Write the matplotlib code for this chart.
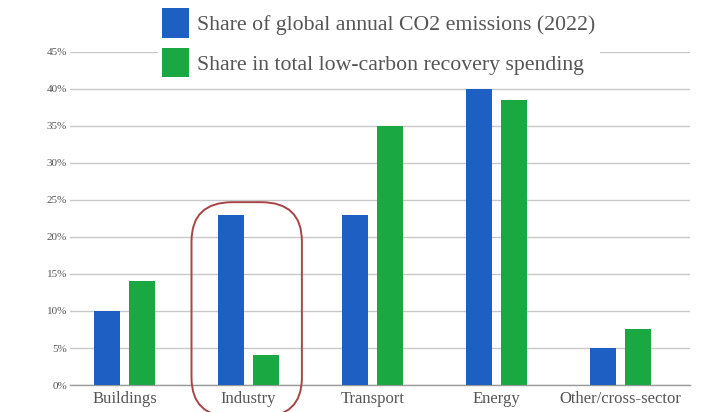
import matplotlib
matplotlib.use("Agg")
import matplotlib.pyplot as plt
from matplotlib.patches import FancyBboxPatch, Patch
import numpy as np

plt.rcParams['font.family'] = ['Liberation Serif', 'DejaVu Serif']

categories = ["Buildings", "Industry", "Transport", "Energy", "Other/cross-sector"]
emissions_share = [10, 23, 23, 40, 5]
spending_share = [14, 4, 35, 38.5, 7.5]
y_ticks = [0, 5, 10, 15, 20, 25, 30, 35, 40, 45]
y_tick_labels = [f"{v}%" for v in y_ticks]
series_labels = ["Share of global annual CO2 emissions (2022)",
                 "Share in total low-carbon recovery spending"]

blue = "#1d5fc2"
green = "#1aa843"
text_grey = "#555555"

fig = plt.figure(figsize=(7.07, 4.12), dpi=100)
ax = fig.add_axes([0.099, 0.0655, 0.877, 0.8085])

x = np.arange(len(categories))
offset = 0.14
width = 0.21
ax.bar(x - offset, emissions_share, width, color=blue, zorder=3)
ax.bar(x + offset, spending_share, width, color=green, zorder=3)

ax.set_xlim(-0.44, 4.56)
ax.set_ylim(0, 45)
ax.set_yticks(y_ticks)
ax.set_yticklabels(y_tick_labels, fontsize=8, color=text_grey)
ax.set_xticks(x)
ax.set_xticklabels(categories, fontsize=12, color=text_grey)
ax.tick_params(axis='both', length=0)
ax.tick_params(axis='y', pad=2)
ax.tick_params(axis='x', pad=4)
ax.yaxis.grid(True, color="#c8c8c8", linewidth=1.0, zorder=0)
ax.set_axisbelow(True)
for side in ["top", "right", "left"]:
    ax.spines[side].set_visible(False)
ax.spines["bottom"].set_color("#9a9a9a")
ax.spines["bottom"].set_linewidth(1.0)

# Rounded highlight around the Industry pair (runs off the bottom edge)
highlight = FancyBboxPatch((1 - 0.46, -4.3), 0.89, 29.0,
                           boxstyle="round,pad=0,rounding_size=0.33",
                           mutation_aspect=16,
                           fill=False, edgecolor="#a84444", linewidth=1.4,
                           clip_on=False, zorder=4)
ax.add_patch(highlight)

handles = [Patch(facecolor=blue), Patch(facecolor=green)]
leg = fig.legend(handles, series_labels, loc="upper left",
                 bbox_to_anchor=(0.223, 0.99), frameon=True,
                 facecolor="white", edgecolor="none", framealpha=1,
                 fontsize=15.7, handlelength=1.25, handleheight=1.70,
                 handletextpad=0.37, labelspacing=0.46, borderpad=0.2,
                 borderaxespad=0)
for t in leg.get_texts():
    t.set_color(text_grey)

fig.savefig("out.png", dpi=100)
